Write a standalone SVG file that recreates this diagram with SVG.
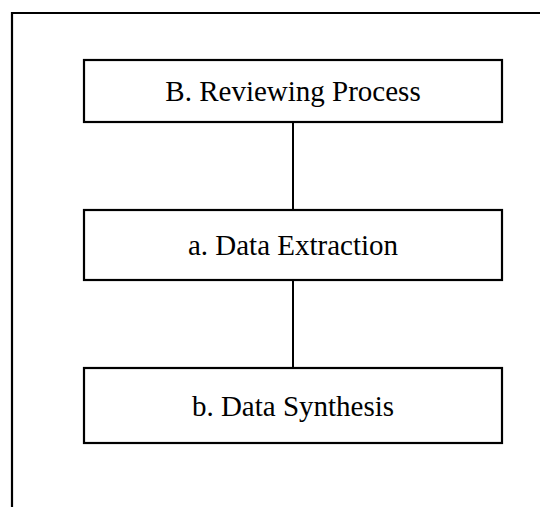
<svg xmlns="http://www.w3.org/2000/svg" width="540" height="507" viewBox="0 0 540 507">
  <style>
    .box { fill: #ffffff; stroke: #000000; stroke-width: 2.2; }
    .frame { fill: none; stroke: #000000; stroke-width: 2.2; }
    .link { stroke: #000000; stroke-width: 2; fill: none; }
    .label { font-family: "Liberation Serif", "Times New Roman", serif; font-size: 29px; fill: #000000; text-anchor: middle; }
  </style>
  <rect width="540" height="507" fill="#ffffff"/>
  <!-- outer frame, open past the right and bottom edges -->
  <path class="frame" d="M12,507 V13 H540"/>
  <g id="connectors">
    <line class="link" x1="293" y1="122" x2="293" y2="210"/>
    <line class="link" x1="293" y1="280" x2="293" y2="368"/>
  </g>
  <g id="reviewing-process">
    <rect class="box" x="84" y="60" width="418" height="62"/>
    <text class="label" x="293" y="101">B. Reviewing Process</text>
  </g>
  <g id="data-extraction">
    <rect class="box" x="84" y="210" width="418" height="70"/>
    <text class="label" x="293" y="255">a. Data Extraction</text>
  </g>
  <g id="data-synthesis">
    <rect class="box" x="84" y="368" width="418" height="75"/>
    <text class="label" x="293" y="416">b. Data Synthesis</text>
  </g>
</svg>
